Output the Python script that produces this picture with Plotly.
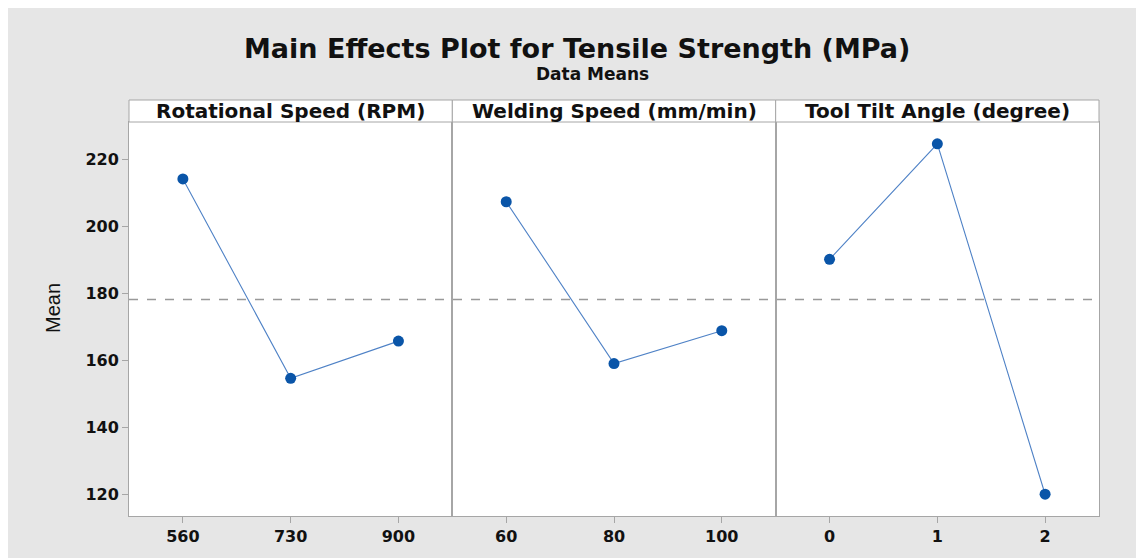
import plotly.graph_objects as go

# ---- data ----
panel_titles = ["Rotational Speed (RPM)", "Welding Speed (mm/min)", "Tool Tilt Angle (degree)"]
rpm_levels = ["560", "730", "900"]
rpm_means = [214.1, 154.6, 165.7]
speed_levels = ["60", "80", "100"]
speed_means = [207.3, 159.0, 168.8]
tilt_levels = ["0", "1", "2"]
tilt_means = [190.1, 224.6, 120.0]
y_ticks = [120, 140, 160, 180, 200, 220]

levels = [rpm_levels, speed_levels, tilt_levels]
means = [rpm_means, speed_means, tilt_means]
grand_mean = sum(rpm_means) / len(rpm_means)

W, H = 1144, 558
L, R, T, B = 121, 53, 114, 50
plot_h = H - T - B
plot_w = W - L - R
strip_h = 22

GRAY = "#a6a6a6"
FONT = "DejaVu Sans"
TXT = "#111111"

fig = go.Figure()
domains = [[0, 1/3], [1/3, 2/3], [2/3, 1]]
for i in range(3):
    sx = "" if i == 0 else str(i + 1)
    fig.add_trace(go.Scatter(
        x=levels[i], y=means[i], mode="lines+markers",
        line=dict(color="#4f82c6", width=1.1),
        marker=dict(color="#0a55a8", size=11),
        xaxis="x" + sx, yaxis="y" + sx, showlegend=False,
        hoverinfo="x+y"))
    fig.update_layout(**{
        "xaxis" + sx: dict(domain=domains[i], type="category", range=[-0.5, 2.5],
                           showline=True, mirror=True, linecolor=GRAY, linewidth=1,
                           ticks="outside", ticklen=6, tickcolor=GRAY,
                           showgrid=False, zeroline=False, anchor="y" + sx,
                           tickfont=dict(family=FONT, size=16, color=TXT, weight="bold")),
        "yaxis" + sx: dict(range=[113.5, 231.1], anchor="x" + sx,
                           showline=True, mirror=True, linecolor=GRAY, linewidth=1,
                           showgrid=False, zeroline=False,
                           tickvals=y_ticks,
                           ticks="outside" if i == 0 else "", ticklen=6, tickcolor=GRAY,
                           showticklabels=(i == 0),
                           tickfont=dict(family=FONT, size=16, color=TXT, weight="bold"),
                           **({} if i == 0 else {"matches": "y"})),
    })
    # strip
    fig.add_shape(type="rect", xref="paper", yref="paper",
                  x0=domains[i][0], x1=domains[i][1],
                  y0=1, y1=1 + strip_h / plot_h,
                  fillcolor="white", line=dict(color=GRAY, width=1))
    fig.add_annotation(text=panel_titles[i], xref="paper", yref="paper",
                       x=(domains[i][0] + domains[i][1]) / 2, y=1 + strip_h / plot_h / 2,
                       showarrow=False, yanchor="middle", xanchor="center",
                       font=dict(family=FONT, size=20, color=TXT, weight="bold"))

# grand mean reference line
fig.add_shape(type="line", xref="paper", yref="y", x0=0, x1=1,
              y0=grand_mean, y1=grand_mean,
              line=dict(color="#999999", width=1.5, dash="dash"))

fig.add_annotation(text="Main Effects Plot for Tensile Strength (MPa)",
                   xref="paper", yref="paper",
                   x=(569 - L) / plot_w, y=1 + (T - 40) / plot_h,
                   showarrow=False, xanchor="center", yanchor="middle",
                   font=dict(family=FONT, size=27, color=TXT, weight="bold"))
fig.add_annotation(text="Data Means", xref="paper", yref="paper",
                   x=(584 - L) / plot_w, y=1 + (T - 66) / plot_h,
                   showarrow=False, xanchor="center", yanchor="middle",
                   font=dict(family=FONT, size=17, color=TXT, weight="bold"))
fig.add_annotation(text="Mean", xref="paper", yref="paper",
                   x=(45 - L) / plot_w, y=(508 - 300) / plot_h,
                   showarrow=False, textangle=-90, xanchor="center", yanchor="middle",
                   font=dict(family="Liberation Sans", size=20, color=TXT))

fig.update_layout(width=W, height=H, margin=dict(l=L, r=R, t=T, b=B),
                  paper_bgcolor="#e6e6e6", plot_bgcolor="white")

fig.write_html("out.html")
